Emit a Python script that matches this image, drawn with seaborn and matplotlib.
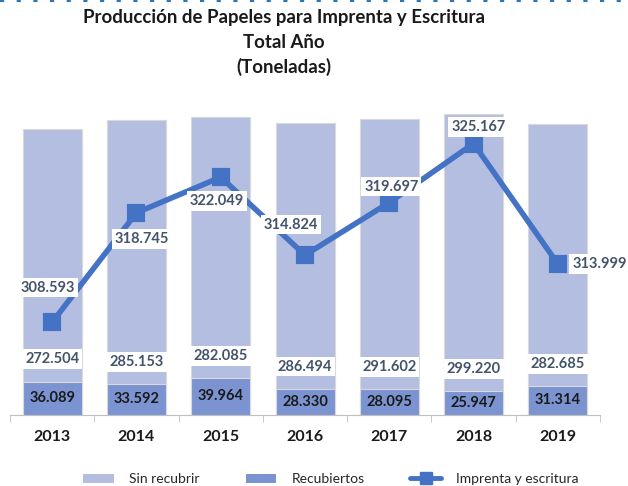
import numpy as np
import pandas as pd
import matplotlib.pyplot as plt
import seaborn as sns
from matplotlib.patches import Patch
from matplotlib.lines import Line2D

# Data (toneladas)
years = ["2013", "2014", "2015", "2016", "2017", "2018", "2019"]
sin_recubrir = [272504, 285153, 282085, 286494, 291602, 299220, 282685]
recubiertos = [36089, 33592, 39964, 28330, 28095, 25947, 31314]
imprenta = [308593, 318745, 322049, 314824, 319697, 325167, 313999]

# label offsets for the line values (points)
line_dx = [-3, 4, -3, -10, 1.5, 3.5, 30]
line_dy = [25, -19, -17, 22, 11.5, 12, 0]

light = "#B4BEE0"
dark = "#7B93D1"
line_color = "#4472C4"
label_color = "#44546A"

sns.set_style("white")
plt.rcParams["font.family"] = ["Lato", "DejaVu Sans"]

df = pd.DataFrame({
    "Año": years,
    "Sin recubrir": sin_recubrir,
    "Recubiertos": recubiertos,
    "Imprenta": imprenta,
})
df["Total"] = df["Sin recubrir"] + df["Recubiertos"]


def fmt(v):
    return f"{v:,}".replace(",", ".")


fig = plt.figure(figsize=(6.28, 4.86), dpi=100)
ax = fig.add_axes([10 / 628, 1 - 415 / 486, 590 / 628, 315 / 486])

# -------------------------
# Stacked bars
# -------------------------
sns.barplot(data=df, x="Año", y="Total", color=light, saturation=1, width=0.7,
            edgecolor="#d9d9d9", linewidth=0.8, errorbar=None, ax=ax)
sns.barplot(data=df, x="Año", y="Recubiertos", color=dark, saturation=1, width=0.7,
            edgecolor="#d9d9d9", linewidth=0.8, errorbar=None, ax=ax)

for i, (s, r) in enumerate(zip(sin_recubrir, recubiertos)):
    ax.annotate(fmt(r), (i, r / 2), ha="center", va="center", fontsize=10.5,
                fontweight="bold", color="#1a1a1a", zorder=5)
    ax.annotate(fmt(s), (i, r), xytext=(0, 16), textcoords="offset points",
                ha="center", va="center", fontsize=10.5, fontweight="bold",
                color=label_color, zorder=5,
                bbox=dict(boxstyle="square,pad=0.2", fc="white", ec="none"))

ax.set_ylim(0, 340000)
ax.set_yticks([])
ax.set_xlabel("")
ax.set_ylabel("")
for side in ["top", "right", "left"]:
    ax.spines[side].set_visible(False)
ax.spines["bottom"].set_color("#bfbfbf")

# -------------------------
# Line on secondary axis
# -------------------------
ax2 = ax.twinx()
sns.pointplot(data=df, x="Año", y="Imprenta", color=line_color, markers="s",
              markersize=10, linewidth=4, errorbar=None, ax=ax2)
ax2.set_ylim(300000, 329200)
ax2.set_yticks([])
ax2.set_ylabel("")
ax2.set_xlabel("")
for side in ax2.spines:
    ax2.spines[side].set_visible(False)

for i, v in enumerate(imprenta):
    ax2.annotate(fmt(v), (i, v), xytext=(line_dx[i], line_dy[i]),
                 textcoords="offset points", ha="center", va="center",
                 fontsize=10.5, fontweight="bold", color=label_color, zorder=6,
                 bbox=dict(boxstyle="square,pad=0.2", fc="white", ec="none"))

ax.set_xlim(-0.5, 6.5)
ax2.set_xlim(-0.5, 6.5)
ax.set_xticks(range(len(years)))
ax.set_xticklabels(years, fontsize=11.5, fontweight="bold", color="#1a1a1a")
ax.set_xticks(np.arange(-0.5, len(years)), minor=True)
ax.tick_params(axis="x", which="major", length=0, pad=11, bottom=True)
ax.tick_params(axis="x", which="minor", length=5, color="#bfbfbf", bottom=True)

# -------------------------
# Titles and legend
# -------------------------
title_lines = ["Producción de Papeles para Imprenta y Escritura", "Total Año", "(Toneladas)"]
for txt, ypx in zip(title_lines, [17, 43, 67]):
    fig.text(284 / 628, 1 - ypx / 486, txt, ha="center", va="center",
             fontsize=13.4, fontweight="bold", color="#1a1a1a")

fig.add_artist(Line2D([0, 1], [0.997, 0.997], transform=fig.transFigure,
                      color="#2E75B6", lw=1.5, linestyle=(0, (2, 6))))

handles = [
    Patch(facecolor=light, edgecolor="none"),
    Patch(facecolor=dark, edgecolor="none"),
    Line2D([], [], color=line_color, lw=3.5, marker="s", markersize=8),
]
fig.legend(handles, ["Sin recubrir", "Recubiertos", "Imprenta y escritura"],
           loc="center", bbox_to_anchor=(331 / 628, 1 - 479 / 486), ncol=3,
           frameon=False, fontsize=10, handlelength=2.2, handleheight=0.6,
           handletextpad=1.1, columnspacing=3.3)

fig.savefig("out.png", dpi=100)
